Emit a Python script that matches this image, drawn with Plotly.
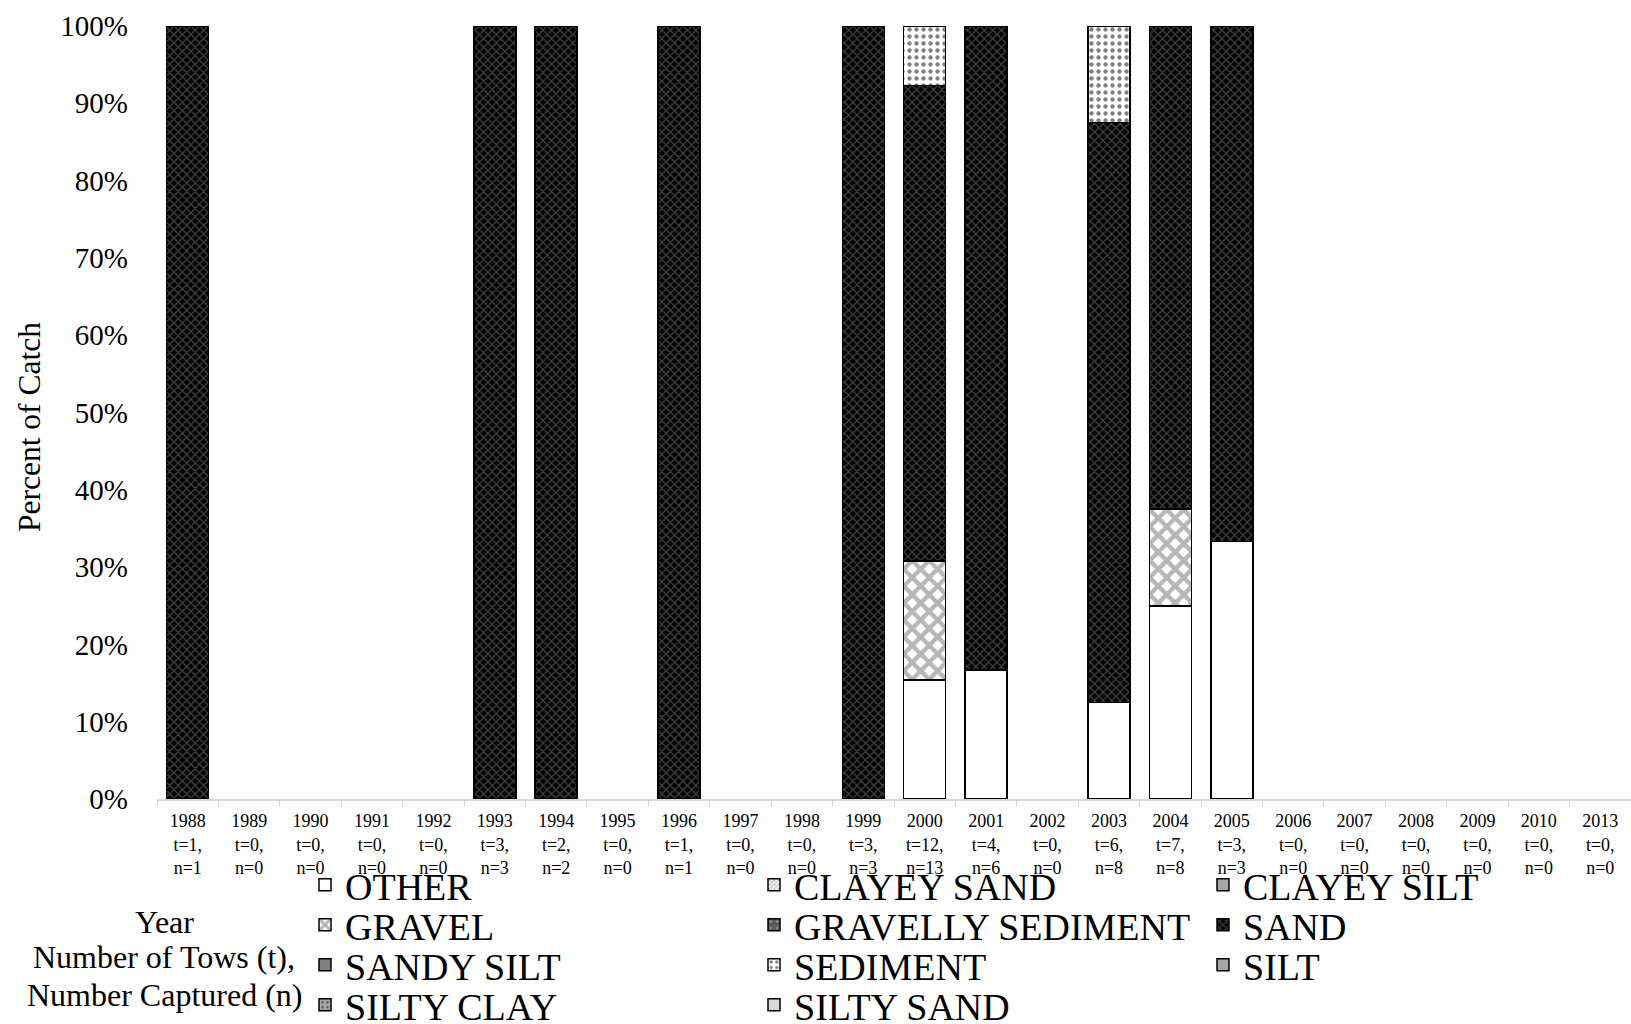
import plotly.graph_objects as go

# Survey years with number of tows (t) and number captured (n)
years = ["1988", "1989", "1990", "1991", "1992", "1993", "1994", "1995",
         "1996", "1997", "1998", "1999", "2000", "2001", "2002", "2003",
         "2004", "2005", "2006", "2007", "2008", "2009", "2010", "2013"]
tows = [1, 0, 0, 0, 0, 3, 2, 0, 1, 0, 0, 3, 12, 4, 0, 6, 7, 3, 0, 0, 0, 0, 0, 0]
captured = [1, 0, 0, 0, 0, 3, 2, 0, 1, 0, 0, 3, 13, 6, 0, 8, 8, 3, 0, 0, 0, 0, 0, 0]

# Percent of catch by substrate type
N = None
other = [N, N, N, N, N, N, N, N, N, N, N, N, 15.4, 16.7, N, 12.5, 25.0, 33.3, N, N, N, N, N, N]
clayey_sand = [N] * 24
clayey_silt = [N] * 24
gravel = [N, N, N, N, N, N, N, N, N, N, N, N, 15.4, N, N, N, 12.5, N, N, N, N, N, N, N]
gravelly_sediment = [N] * 24
sand = [100, N, N, N, N, 100, 100, N, 100, N, N, 100, 61.5, 83.3, N, 75.0, 62.5, 66.7, N, N, N, N, N, N]
sandy_silt = [N] * 24
sediment = [N, N, N, N, N, N, N, N, N, N, N, N, 7.7, N, N, 12.5, N, N, N, N, N, N, N, N]
silt = [N] * 24
silty_clay = [N] * 24
silty_sand = [N] * 24

tick_text = [f"{y}<br>t={t},<br>n={n}" for y, t, n in zip(years, tows, captured)]

FONT = "Liberation Serif, Times New Roman, serif"

# (name, values, fill colour, pattern)
series = [
    ("OTHER", other, "white", None),
    ("CLAYEY SAND", clayey_sand, "white", dict(shape="x", fgcolor="#7f7f7f", bgcolor="white", size=4, solidity=0.5)),
    ("CLAYEY SILT", clayey_silt, "#a6a6a6", None),
    ("GRAVEL", gravel, "white", dict(shape="x", fgcolor="#6e6e6e", bgcolor="white", size=12, solidity=0.6)),
    ("GRAVELLY SEDIMENT", gravelly_sediment, "#595959", dict(shape=".", fgcolor="#bfbfbf", bgcolor="#595959", size=8, solidity=0.15)),
    ("SAND", sand, "black", dict(shape="x", fgcolor="#808080", bgcolor="black", size=6, solidity=0.4)),
    ("SANDY SILT", sandy_silt, "#808080", None),
    ("SEDIMENT", sediment, "white", dict(shape=".", fgcolor="black", bgcolor="white", size=7, solidity=0.3)),
    ("SILT", silt, "#a6a6a6", None),
    ("SILTY CLAY", silty_clay, "#a6a6a6", dict(shape=".", fgcolor="black", bgcolor="#a6a6a6", size=6, solidity=0.2)),
    ("SILTY SAND", silty_sand, "#d9d9d9", None),
]

plot_left, plot_right = 157, 1631
plot_top, plot_bottom = 26, 799
plot_w = plot_right - plot_left
plot_h = plot_bottom - plot_top

def px_x(px):
    return (px - plot_left) / plot_w

def px_y(px):
    return (plot_bottom - px) / plot_h

# Legend grid: three columns, four rows
col_px = [305, 754, 1203]
row_px = [885, 925, 965, 1005]

fig = go.Figure()
legends = {}
for i, (name, vals, color, pattern) in enumerate(series):
    marker = dict(color=color, line=dict(color="black", width=1.5))
    if pattern:
        marker["pattern"] = pattern
    key = "legend" if i == 0 else f"legend{i + 1}"
    fig.add_trace(go.Bar(x=years, y=vals, name=name, marker=marker, legend=key, showlegend=True))
    r, c = divmod(i, 3)
    legends[key] = dict(
        orientation="h", xanchor="left", x=px_x(col_px[c]),
        yanchor="middle", y=px_y(row_px[r]),
        bgcolor="rgba(0,0,0,0)", visible=True,
        font=dict(family=FONT, size=38, color="black"),
    )

fig.update_layout(
    width=1631, height=1024,
    margin=dict(l=plot_left, r=1631 - plot_right, t=plot_top, b=1024 - plot_bottom, autoexpand=False),
    paper_bgcolor="white", plot_bgcolor="white",
    showlegend=True,
    barmode="stack", bargap=0.316,
    font=dict(family=FONT, color="black"),
    xaxis=dict(
        tickmode="array", tickvals=years, ticktext=tick_text,
        tickfont=dict(family=FONT, size=18, color="black"),
        showline=True, linecolor="#d9d9d9", linewidth=1.5,
        ticks="outside", tickson="boundaries", ticklen=5, tickcolor="#d9d9d9",
        showgrid=False, zeroline=False, tickangle=0, ticklabelstandoff=5,
    ),
    yaxis=dict(
        range=[0, 100], dtick=10, ticksuffix="%",
        tickfont=dict(family=FONT, size=29, color="black"),
        showline=False, showgrid=False, zeroline=False,
        ticklabelstandoff=28,
    ),
    **legends,
)

# Axis captions
fig.add_annotation(text="Percent of Catch", textangle=-90, xref="paper", yref="paper",
                   x=px_x(29), y=px_y(427), xanchor="center", yanchor="middle",
                   showarrow=False, font=dict(family=FONT, size=31.5, color="black"))
for line, ypx in zip(["Year", "Number of Tows (t),", "Number Captured (n)"], [922, 957, 995]):
    fig.add_annotation(text=line, xref="paper", yref="paper",
                       x=px_x(164), y=px_y(ypx), xanchor="center", yanchor="middle",
                       showarrow=False, font=dict(family=FONT, size=32, color="black"))

fig.write_html("out.html")
